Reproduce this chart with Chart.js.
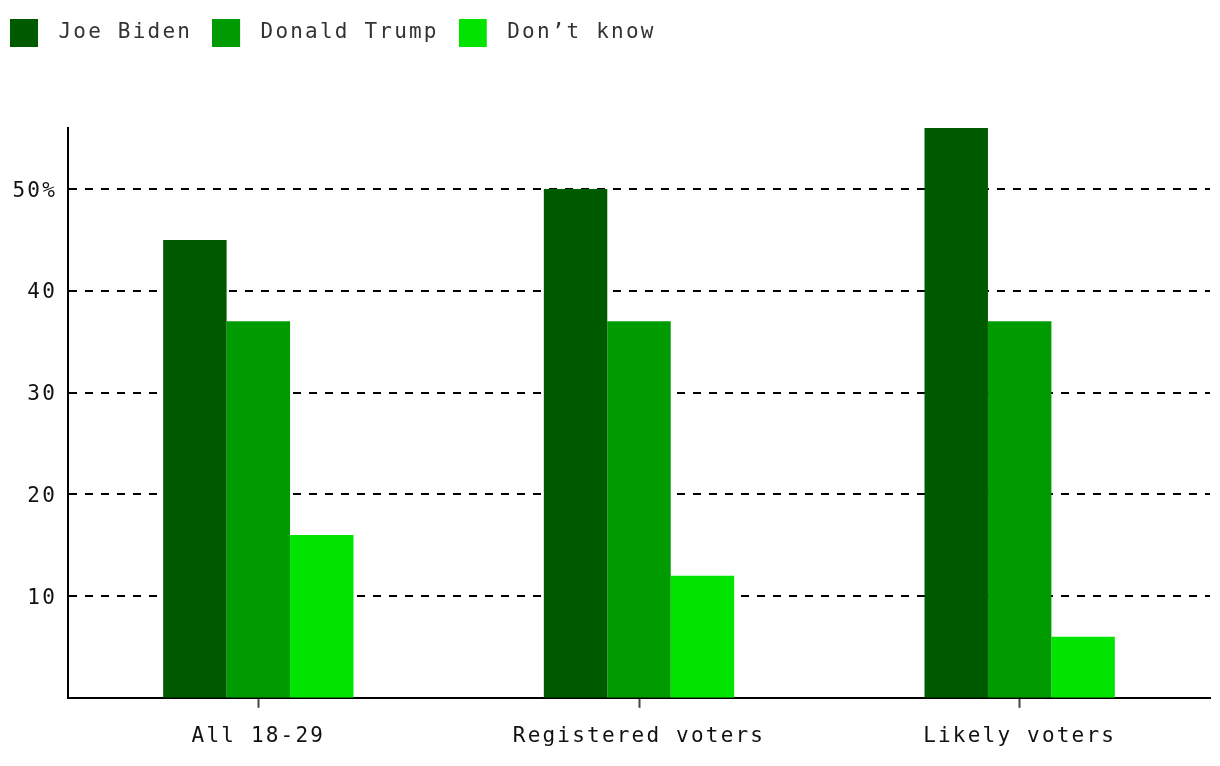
<!DOCTYPE html>
<html>
<head>
<meta charset="utf-8">
<script src="https://cdn.jsdelivr.net/npm/chart.js@4/dist/chart.umd.min.js"></script>
<style>
  html, body { margin: 0; padding: 0; background: #fff; }
  #c { display: block; }
</style>
</head>
<body>
<canvas id="c" width="1220" height="766"></canvas>
<script>
const categories = ['All 18-29', 'Registered voters', 'Likely voters'];
const seriesNames = ['Joe Biden', 'Donald Trump', 'Don\u2019t know'];
const bidenValues = [45, 50, 56];
const trumpValues = [37, 37, 37];
const dontKnowValues = [16, 12, 6];
const yTickValues = [10, 20, 30, 40, 50];
const yTickLabels = ['10', '20', '30', '40', '50%'];
const seriesColors = ['#005a00', '#009b00', '#00e400'];

const FONT = '"DejaVu Sans Mono", "Liberation Mono", monospace';
const LETTER_SPACING = '2.2px';

function makeIcon(color) {
  const cv = document.createElement('canvas');
  cv.width = 38; cv.height = 28;
  const g = cv.getContext('2d');
  g.fillStyle = color;
  g.fillRect(0, 0, 28, 28);
  return cv;
}
const icons = seriesColors.map(makeIcon);

const spacingPlugin = {
  id: 'spacing',
  beforeUpdate(chart) { chart.ctx.letterSpacing = LETTER_SPACING; },
  beforeDraw(chart) { chart.ctx.letterSpacing = LETTER_SPACING; }
};

const valueSets = [bidenValues, trumpValues, dontKnowValues];

new Chart(document.getElementById('c'), {
  type: 'bar',
  data: {
    labels: categories,
    datasets: seriesNames.map((name, i) => ({
      label: name,
      data: valueSets[i],
      backgroundColor: seriesColors[i],
      borderWidth: 0,
      categoryPercentage: 0.5,
      barPercentage: 1.0
    }))
  },
  plugins: [spacingPlugin],
  options: {
    responsive: false,
    animation: false,
    devicePixelRatio: 1,
    layout: { padding: { left: -10, right: 10, top: 2, bottom: 1 } },
    plugins: {
      tooltip: { enabled: false },
      legend: {
        position: 'top',
        align: 'start',
        weight: 3000,
        labels: {
          usePointStyle: true,
          pointStyleWidth: 38,
          boxHeight: 28,
          padding: 20,
          color: '#333',
          font: { family: FONT, size: 21 },
          generateLabels(chart) {
            const items = Chart.defaults.plugins.legend.labels.generateLabels(chart);
            items.forEach((it, i) => { it.pointStyle = icons[i]; });
            return items;
          }
        }
      },
      title: {
        display: true,
        text: ' ',
        color: 'rgba(0,0,0,0)',
        weight: 2000,
        font: { size: 12, lineHeight: 1.2 },
        padding: { top: 0, bottom: 60.6 }
      }
    },
    scales: {
      x: {
        offset: true,
        grid: {
          offset: false,
          drawOnChartArea: false,
          drawTicks: true,
          tickLength: 10,
          tickColor: '#444',
          tickWidth: 2
        },
        border: { display: true, color: '#000', width: 2 },
        ticks: {
          color: '#111',
          padding: 16,
          font: { family: FONT, size: 21 }
        }
      },
      y: {
        min: 0,
        max: 56,
        afterBuildTicks(scale) {
          scale.ticks = yTickValues.map(v => ({ value: v }));
        },
        afterFit(scale) { scale.width = 78; },
        grid: {
          color: '#000',
          lineWidth: 2,
          drawTicks: false
        },
        border: { display: true, color: '#000', width: 2, dash: [8, 8] },
        ticks: {
          color: '#111',
          padding: 11,
          labelOffset: 2,
          font: { family: FONT, size: 21 },
          callback(value) {
            const idx = yTickValues.indexOf(value);
            return idx >= 0 ? yTickLabels[idx] : '';
          }
        }
      }
    }
  }
});
</script>
</body>
</html>
